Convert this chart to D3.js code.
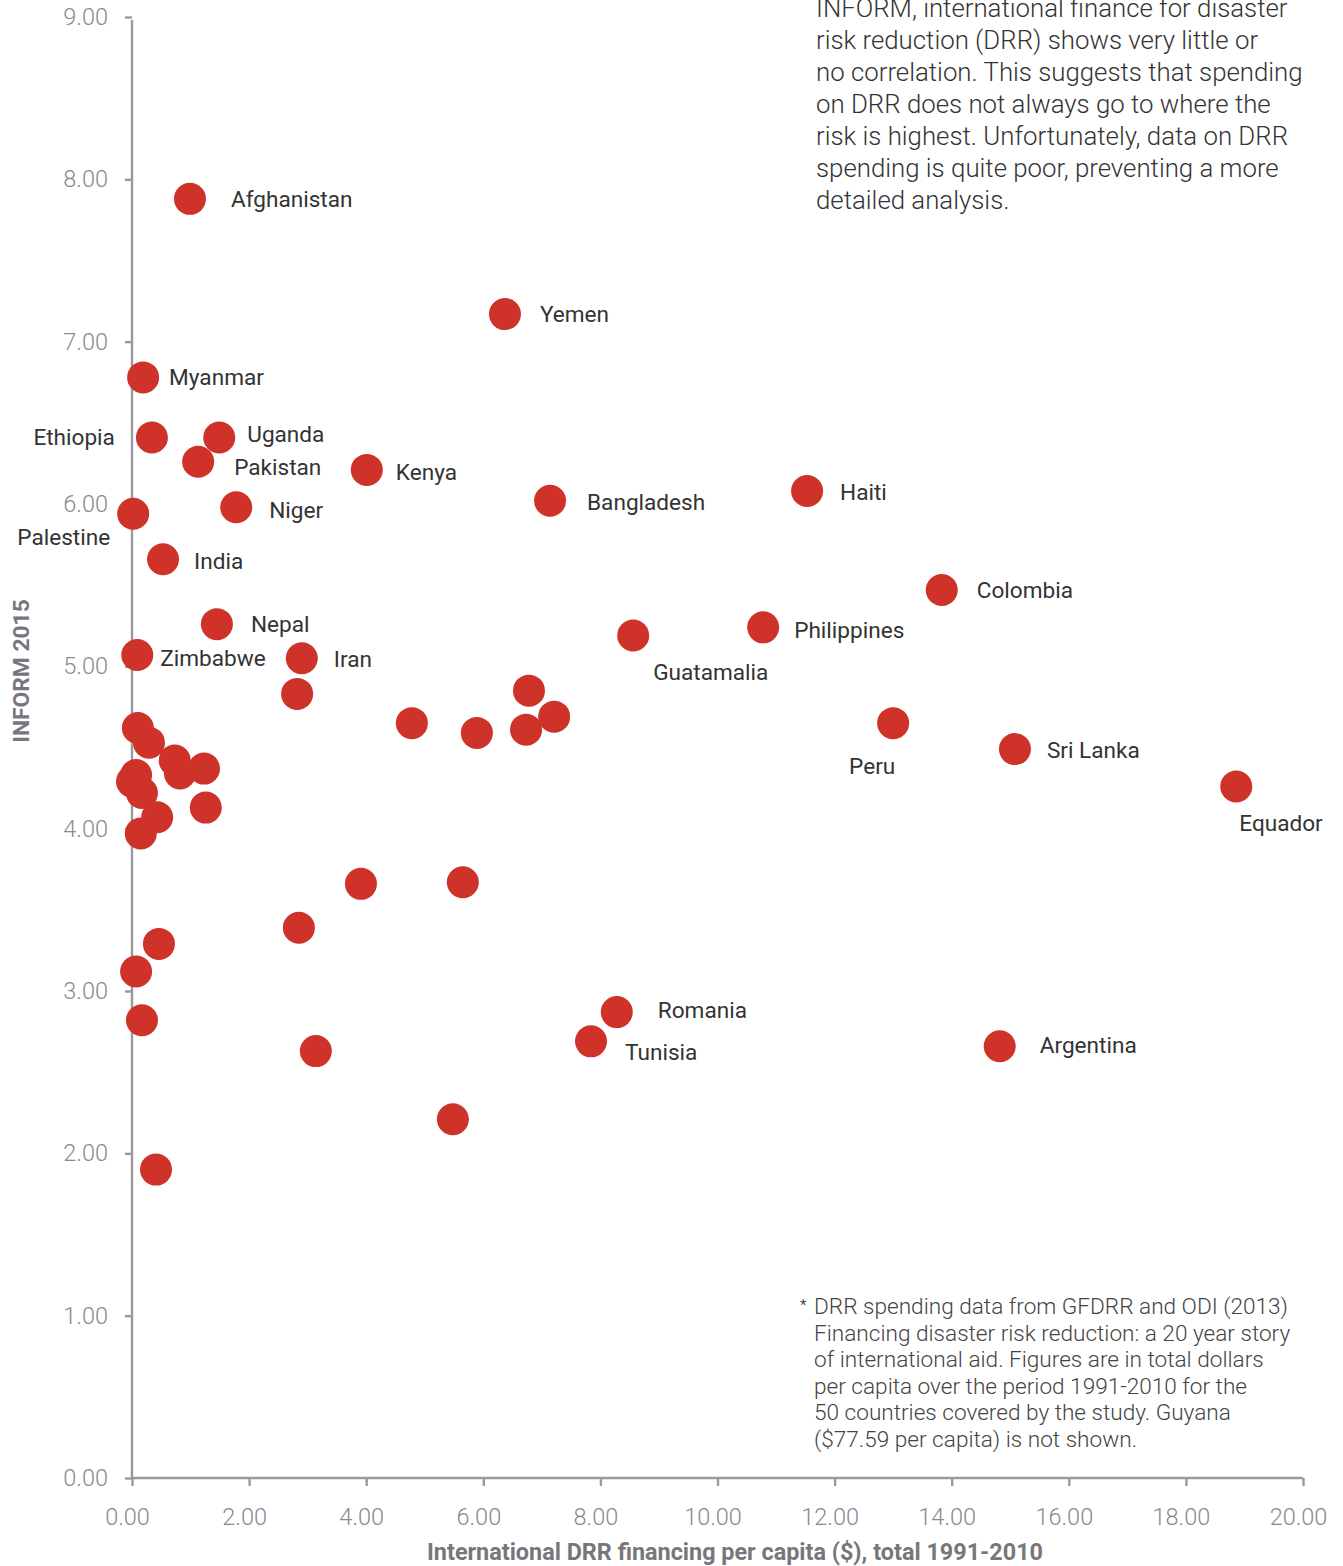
<!DOCTYPE html>
<html>
<head>
<meta charset="utf-8">
<script src="https://cdn.jsdelivr.net/npm/d3@7"></script>
<style>
  html, body { margin: 0; padding: 0; background: #fff; }
  svg { display: block; font-family: Roboto, "Noto Sans", sans-serif; }
</style>
</head>
<body>
<svg id="chart" width="1343" height="1566"></svg>
<script>
// ---------- data ----------
const countries = [
  "Afghanistan", "Yemen", "Myanmar", "Ethiopia", "Uganda", "Pakistan", "Kenya", "Bangladesh",
  "Haiti", "Niger", "Palestine", "India", "Colombia", "Nepal", "Philippines", "Guatamalia",
  "Zimbabwe", "Iran", "Peru", "Sri Lanka", "Equador", "Romania", "Tunisia", "Argentina",
  "", "", "", "", "", "",
  "", "", "", "", "", "", "", "", "", "", "",
  "", "", "", "", "", "", "", "", ""
];
const drrPerCapita = [
  0.99, 6.37, 0.19, 0.34, 1.49, 1.13, 4.01, 7.14,
  11.53, 1.78, 0.02, 0.53, 13.83, 1.45, 10.78, 8.56,
  0.09, 2.90, 13.00, 15.08, 18.86, 8.28, 7.84, 14.82,
  2.82, 4.78, 5.89, 6.78, 6.73, 7.21,
  0.10, 0.29, 0.73, 0.82, 1.23, 0.07, 0.00, 0.17, 0.43, 0.15, 1.26,
  3.91, 5.65, 2.85, 0.46, 0.07, 0.17, 3.14, 5.48, 0.41
];
const inform2015 = [
  7.88, 7.17, 6.78, 6.41, 6.41, 6.26, 6.21, 6.02,
  6.08, 5.98, 5.94, 5.66, 5.47, 5.26, 5.24, 5.19,
  5.07, 5.05, 4.65, 4.49, 4.26, 2.87, 2.69, 2.66,
  4.83, 4.65, 4.59, 4.85, 4.61, 4.69,
  4.62, 4.53, 4.42, 4.34, 4.37, 4.33, 4.29, 4.22, 4.07, 3.97, 4.13,
  3.66, 3.67, 3.39, 3.29, 3.12, 2.82, 2.63, 2.21, 1.90
];
const xTicks = [0, 2, 4, 6, 8, 10, 12, 14, 16, 18, 20];
const yTicks = [0, 1, 2, 3, 4, 5, 6, 7, 8, 9];
const xTitle = "International DRR financing per capita ($), total 1991-2010";
const yTitle = "INFORM 2015";
const noteLines = [
  "INFORM, international finance for disaster",
  "risk reduction (DRR) shows very little or",
  "no correlation. This suggests that spending",
  "on DRR does not always go to where the",
  "risk is highest. Unfortunately, data on DRR",
  "spending is quite poor, preventing a more",
  "detailed analysis."
];
const footnoteLines = [
  "DRR spending data from GFDRR and ODI (2013)",
  "Financing disaster risk reduction: a 20 year story",
  "of international aid. Figures are in total dollars",
  "per capita over the period 1991-2010 for the",
  "50 countries covered by the study. Guyana",
  "($77.59 per capita) is not shown."
];

// ---------- label placement (layout only) ----------
const labelLayout = {
  "Afghanistan": [41, 0, "start"],
  "Yemen": [35, 0, "start"],
  "Myanmar": [26, 0, "start"],
  "Ethiopia": [-37, 0, "end"],
  "Uganda": [28, -3, "start"],
  "Pakistan": [36, 5, "start"],
  "Kenya": [29, 2, "start"],
  "Bangladesh": [37, 1, "start"],
  "Haiti": [33, 1, "start"],
  "Niger": [33, 3, "start"],
  "Palestine": [-23, 23, "end"],
  "India": [31, 2, "start"],
  "Colombia": [35, 0, "start"],
  "Nepal": [34, 0, "start"],
  "Philippines": [31, 3, "start"],
  "Guatamalia": [20, 37, "start"],
  "Zimbabwe": [23, 3, "start"],
  "Iran": [32, 1, "start"],
  "Peru": [-21, 43, "middle"],
  "Sri Lanka": [32, 1, "start"],
  "Equador": [3, 37, "start"],
  "Romania": [41, -2, "start"],
  "Tunisia": [34, 11, "start"],
  "Argentina": [40, -1, "start"]
};

// ---------- chart ----------
const svg = d3.select("#chart");
const x = d3.scaleLinear().domain([0, 20]).range([132, 1303]);
const y = d3.scaleLinear().domain([0, 9]).range([1478, 17]);
const axisColor = "#9a9a9e";

// note text (top right)
const note = svg.append("text")
  .attr("font-size", 25.8).attr("font-weight", 300).attr("fill", "#333");
noteLines.forEach((l, i) => note.append("tspan").attr("x", 816).attr("y", 17 + i * 32).text(l));

// footnote
svg.append("text").attr("x", 800).attr("y", 1310).attr("font-size", 15).attr("fill", "#444").text("*");
const foot = svg.append("text").attr("font-size", 22.6).attr("font-weight", 300).attr("fill", "#444");
footnoteLines.forEach((l, i) => foot.append("tspan").attr("x", 814).attr("y", 1314 + i * 26.6).text(l));

// y axis
const gy = svg.append("g").attr("transform", `translate(${x(0)},0)`)
  .call(d3.axisLeft(y).tickValues(yTicks).tickFormat(d3.format(".2f")).tickSize(7).tickPadding(17));
// x axis
const gx = svg.append("g").attr("transform", `translate(0,${y(0)})`)
  .call(d3.axisBottom(x).tickValues(xTicks).tickFormat(d3.format(".2f")).tickSize(8).tickPadding(22));
[gx, gy].forEach(g => {
  g.select(".domain").attr("stroke", axisColor).attr("stroke-width", 2.4);
  g.selectAll(".tick line").attr("stroke", axisColor).attr("stroke-width", 2.4);
  g.selectAll(".tick text").attr("fill", "#8a8a8e").attr("font-size", 23.5).attr("font-weight", 300)
    .attr("font-family", "Roboto, sans-serif");
});
gx.selectAll(".tick text").attr("dx", -5);
gy.select(".domain").attr("d", `M0,${y(0)}V20`);
gx.select(".domain").attr("d", `M${x(0)},0H${x(20)}`);

// axis titles
svg.append("text").attr("x", 735).attr("y", 1560).attr("text-anchor", "middle")
  .attr("font-size", 23.4).attr("font-weight", 700).attr("fill", "#77777b").text(xTitle);
svg.append("text").attr("transform", `translate(29,671) rotate(-90)`).attr("text-anchor", "middle")
  .attr("font-size", 22.8).attr("font-weight", 700).attr("fill", "#77777b").text(yTitle);

// points
const data = countries.map((c, i) => ({ name: c, x: drrPerCapita[i], y: inform2015[i] }));
svg.append("g").selectAll("circle").data(data).join("circle")
  .attr("cx", d => x(d.x)).attr("cy", d => y(d.y)).attr("r", 16)
  .attr("fill", "#cf3228");

// labels
svg.append("g").selectAll("text").data(data.filter(d => d.name)).join("text")
  .attr("x", d => x(d.x) + labelLayout[d.name][0])
  .attr("y", d => y(d.y) + labelLayout[d.name][1])
  .attr("dy", "0.35em")
  .attr("text-anchor", d => labelLayout[d.name][2])
  .attr("font-size", 22.6).attr("font-weight", 400).attr("fill", "#333")
  .text(d => d.name);
</script>
</body>
</html>
